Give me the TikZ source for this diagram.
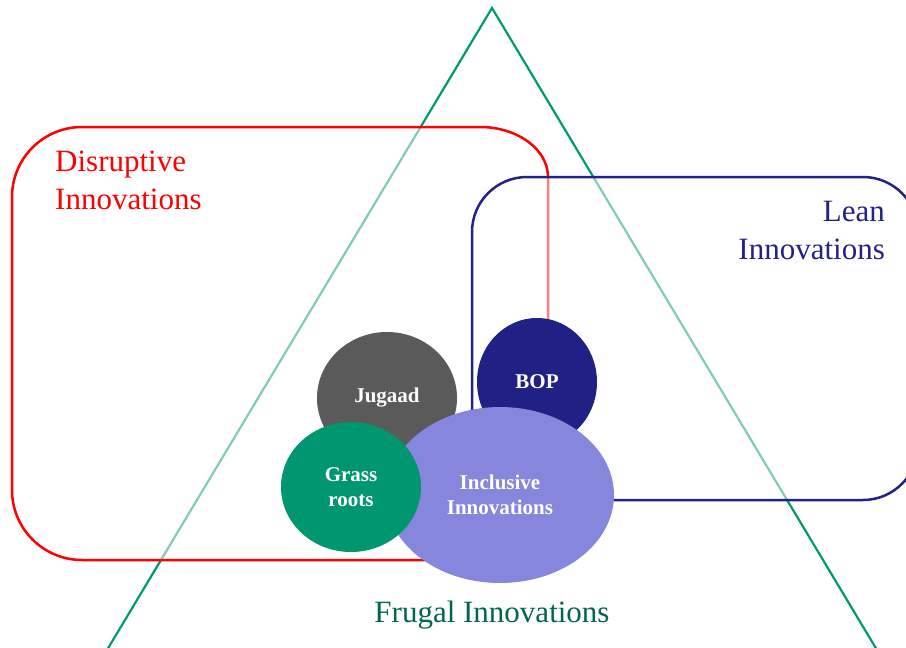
\documentclass[tikz,border=0pt]{standalone}
\usepackage{fontspec}
\setmainfont{Liberation Serif}
\usetikzlibrary{shapes.geometric}

\definecolor{frugal}{HTML}{009A72}
\definecolor{frugaltext}{HTML}{006650}
\definecolor{disrupt}{HTML}{FF0000}
\definecolor{lean}{HTML}{222288}
\definecolor{jugaad}{HTML}{5A5A5A}
\definecolor{bop}{HTML}{212185}
\definecolor{inclusive}{HTML}{8686DD}
\definecolor{grass}{HTML}{009670}

\begin{document}
\begin{tikzpicture}[
    x=1pt, y=-1pt,
    zone/.style={draw, line width=2.5pt, fill=white, fill opacity=0.5},
    blob/.style={ellipse, draw=none, text=white, align=center, inner sep=0pt, font=\fontsize{21}{25}\selectfont\bfseries},
    title/.style={inner sep=0pt, font=\fontsize{31}{38}\selectfont},
    edge/.style={draw=frugal, line width=2.2pt}
]
\useasboundingbox (0,0) rectangle (906,648);
\clip (0,0) rectangle (906,648);

% Frugal triangle (behind everything)
\coordinate (apex) at (492,8);
\coordinate (baseL) at (101,660);
\coordinate (baseR) at (883,660);
\draw[edge] (baseL) -- (apex) -- (baseR);

% Overlapping zones
\draw[zone, draw=disrupt] (12,197) arc[start angle=180, end angle=270, radius=70]
    -- (480,127) arc[start angle=270, end angle=360, x radius=68, y radius=50]
    -- (548,490) arc[start angle=0, end angle=90, radius=70]
    -- (82,560) arc[start angle=90, end angle=180, radius=70] -- cycle;
\node[zone, rectangle, draw=lean, minimum width=446pt, minimum height=323pt, rounded corners=55pt] (leanzone) at (695,338.5) {};

% Zone titles
\node[title, text=disrupt, anchor=north west, align=left] (disruptlabel) at (55,151) {Disruptive\\Innovations};
\node[title, text=lean, anchor=north east, align=right] (leanlabel) at (885,201) {Lean\\Innovations};
\node[title, text=frugaltext, anchor=base] (frugallabel) at (492,622) {Frugal Innovations};

% Inner blobs
\node[blob, fill=jugaad, minimum width=140pt, minimum height=132pt] (jugaad) at (387,398) {Jugaad};
\node[blob, fill=bop, minimum width=120pt, minimum height=128pt] (bop) at (537,382) {BOP};
\node[blob, fill=inclusive, minimum width=228pt, minimum height=176pt] (inclusive) at (500,495) {Inclusive\\Innovations};
\node[blob, fill=grass, minimum width=140pt, minimum height=130pt] (grass) at (351,487) {Grass\\roots};

\end{tikzpicture}
\end{document}
